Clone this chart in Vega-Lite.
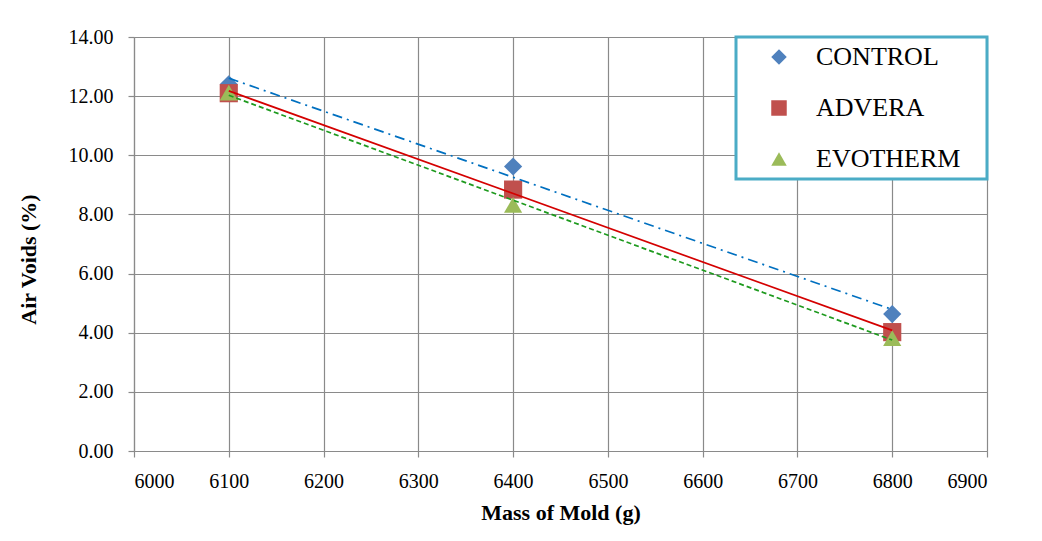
{
  "$schema": "https://vega.github.io/schema/vega-lite/v6.json",
  "width": 853,
  "height": 414,
  "autosize": "none",
  "padding": {"left": 134, "top": 37, "right": 55, "bottom": 90},
  "background": "white",
  "data": {
    "values": [
      {"series": "CONTROL", "mass": 6100, "voids": 12.40},
      {"series": "CONTROL", "mass": 6400, "voids": 9.62},
      {"series": "CONTROL", "mass": 6800, "voids": 4.63},
      {"series": "ADVERA", "mass": 6100, "voids": 12.10},
      {"series": "ADVERA", "mass": 6400, "voids": 8.84},
      {"series": "ADVERA", "mass": 6800, "voids": 4.02},
      {"series": "EVOTHERM", "mass": 6100, "voids": 12.12},
      {"series": "EVOTHERM", "mass": 6400, "voids": 8.32},
      {"series": "EVOTHERM", "mass": 6800, "voids": 3.82}
    ]
  },
  "encoding": {
    "x": {
      "field": "mass", "type": "quantitative",
      "scale": {"domain": [6000, 6900], "nice": false, "zero": false},
      "axis": {
        "title": "Mass of Mold (g)",
        "values": [6000, 6100, 6200, 6300, 6400, 6500, 6600, 6700, 6800, 6900],
        "format": "d",
        "labelFont": "Liberation Serif",
        "labelFontSize": 20,
        "labelPadding": 14,
        "titleBaseline": "alphabetic",
        "titleY": 68
      }
    },
    "y": {
      "field": "voids", "type": "quantitative",
      "scale": {"domain": [0, 14], "nice": false},
      "axis": {
        "title": "Air Voids (%)",
        "values": [0, 2, 4, 6, 8, 10, 12, 14],
        "format": ".2f",
        "labelFont": "Liberation Serif",
        "labelFontSize": 20,
        "labelPadding": 15,
        "titleBaseline": "alphabetic",
        "titleX": -99,
        "titleY": 222,
        "titleAngle": -90
      }
    }
  },
  "layer": [
    {
      "mark": {"type": "point", "filled": true, "opacity": 1, "size": 330, "strokeWidth": 0},
      "encoding": {
        "color": {
          "field": "series", "type": "nominal",
          "scale": {"domain": ["CONTROL", "ADVERA", "EVOTHERM"], "range": ["#4F81BD", "#C0504D", "#9BBB59"]},
          "legend": {"title": " "}
        },
        "shape": {
          "field": "series", "type": "nominal",
          "scale": {"domain": ["CONTROL", "ADVERA", "EVOTHERM"], "range": ["diamond", "square", "triangle-up"]},
          "legend": {"title": " "}
        },
        "order": {"field": "mass"}
      }
    },
    {
      "transform": [
        {"filter": "datum.series === 'CONTROL'"},
        {"regression": "voids", "on": "mass", "method": "linear", "extent": [6100, 6800]}
      ],
      "mark": {"type": "line", "color": "#0070C0", "strokeWidth": 1.7, "strokeDash": [10, 5, 2, 5]},
      "encoding": {}
    },
    {
      "transform": [
        {"filter": "datum.series === 'ADVERA'"},
        {"regression": "voids", "on": "mass", "method": "linear", "extent": [6100, 6800]}
      ],
      "mark": {"type": "line", "color": "#D40000", "strokeWidth": 1.7},
      "encoding": {}
    },
    {
      "transform": [
        {"filter": "datum.series === 'EVOTHERM'"},
        {"regression": "voids", "on": "mass", "method": "linear", "extent": [6100, 6800]}
      ],
      "mark": {"type": "line", "color": "#1E9A1E", "strokeWidth": 1.7, "strokeDash": [5, 3]},
      "encoding": {}
    }
  ],
  "config": {
    "view": {"stroke": null},
    "axis": {
      "grid": true,
      "gridColor": "#8A8A8A",
      "gridWidth": 1.2,
      "domainColor": "#8A8A8A",
      "domainWidth": 1.2,
      "tickColor": "#8A8A8A",
      "tickSize": 6,
      "tickWidth": 1.2,
      "labelFont": "Liberation Serif",
      "labelFontSize": 20,
      "labelColor": "#000000",
      "titleFont": "Liberation Serif",
      "titleFontSize": 22,
      "titleFontWeight": "bold",
      "titleColor": "#000000"
    },
    "legend": {
      "orient": "top-right",
      "offset": 0,
      "strokeColor": "#4BACC6",
      "strokeWidth": 3,
      "fillColor": "#FFFFFF",
      "padding": 7,
      "labelFont": "Liberation Serif",
      "labelFontSize": 26,
      "labelColor": "#000000",
      "symbolSize": 240,
      "symbolStrokeWidth": 0,
      "symbolOffset": 23,
      "labelOffset": 24,
      "rowPadding": 25,
      "titleOrient": "right",
      "titleFontSize": 1,
      "titlePadding": 20
    }
  }
}
